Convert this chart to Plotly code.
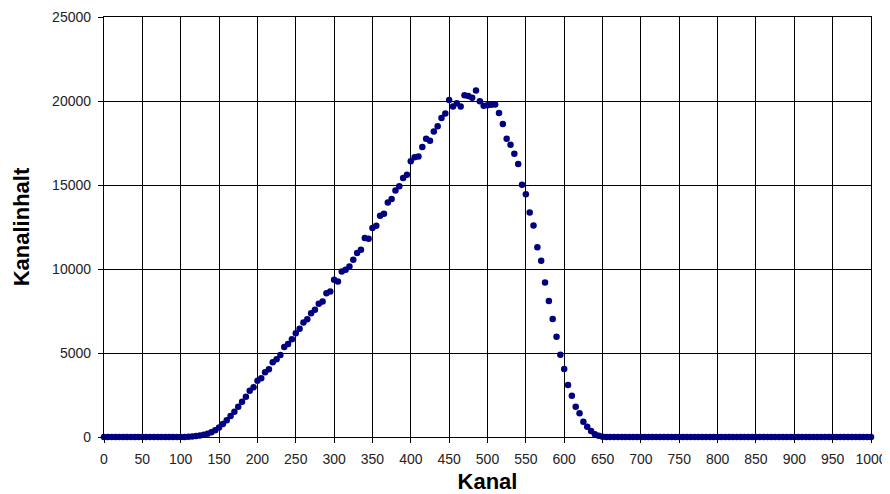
import plotly.graph_objects as go

kanal = [
    0, 5, 10, 15, 20, 25, 30, 35, 40, 45, 50, 55, 60, 65, 70, 75, 80, 85, 90, 95,
    100, 105, 110, 115, 120, 125, 130, 135, 140, 145, 150, 155, 160, 165, 170, 175,
    180, 185, 190, 195, 200, 205, 210, 215, 220, 225, 230, 235, 240, 245, 250, 255,
    260, 265, 270, 275, 280, 285, 290, 295, 300, 305, 310, 315, 320, 325, 330, 335,
    340, 345, 350, 355, 360, 365, 370, 375, 380, 385, 390, 395, 400, 405, 410, 415,
    420, 425, 430, 435, 440, 445, 450, 455, 460, 465, 470, 475, 480, 485, 490, 495,
    500, 505, 510, 515, 520, 525, 530, 535, 540, 545, 550, 555, 560, 565, 570, 575,
    580, 585, 590, 595, 600, 605, 610, 615, 620, 625, 630, 635, 640, 645, 650, 655,
    660, 665, 670, 675, 680, 685, 690, 695, 700, 705, 710, 715, 720, 725, 730, 735,
    740, 745, 750, 755, 760, 765, 770, 775, 780, 785, 790, 795, 800, 805, 810, 815,
    820, 825, 830, 835, 840, 845, 850, 855, 860, 865, 870, 875, 880, 885, 890, 895,
    900, 905, 910, 915, 920, 925, 930, 935, 940, 945, 950, 955, 960, 965, 970, 975,
    980, 985, 990, 995, 1000,
]

kanalinhalt = [
    0, 0, 0, 0, 0, 0, 0, 0, 0, 0, 0, 0, 0, 0, 0, 0, 0, 0, 0, 0,
    0, 5, 15, 30, 60, 90, 130, 190, 280, 400, 560, 780, 1000, 1250, 1500, 1800,
    2100, 2400, 2750, 2960, 3350, 3500, 3850, 4030, 4450, 4630, 4880, 5350, 5540, 5820, 6180, 6450,
    6810, 7010, 7370, 7570, 7930, 8060, 8560, 8660, 9360, 9260, 9850, 9950, 10150, 10550, 10950, 11150,
    11850, 11800, 12440, 12570, 13170, 13290, 13960, 14170, 14680, 14920, 15420, 15610, 16410, 16650, 16700, 17260,
    17760, 17640, 18190, 18490, 18990, 19250, 20060, 19670, 19860, 19680, 20340, 20300, 20200, 20630, 19990, 19720,
    19740, 19770, 19790, 19290, 18630, 17760, 17400, 16860, 16250, 15020, 14450, 13370, 12590, 11300, 10490, 9200,
    8100, 7030, 5970, 4890, 4050, 3100, 2460, 1800, 1410, 910, 610, 350, 170, 70, 20, 5,
    0, 0, 0, 0, 0, 0, 0, 0, 0, 0, 0, 0, 0, 0, 0, 0,
    0, 0, 0, 0, 0, 0, 0, 0, 0, 0, 0, 0, 0, 0, 0, 0,
    0, 0, 0, 0, 0, 0, 0, 0, 0, 0, 0, 0, 0, 0, 0, 0,
    0, 0, 0, 0, 0, 0, 0, 0, 0, 0, 0, 0, 0, 0, 0, 0,
    0, 0, 0, 0, 0,
]

x_title = "Kanal"
y_title = "Kanalinhalt"

fig = go.Figure(
    go.Scatter(
        x=kanal,
        y=kanalinhalt,
        mode="markers",
        marker=dict(color="#000080", size=6.5, line=dict(width=0)),
        cliponaxis=False,
        showlegend=False,
    )
)

axis_common = dict(
    showgrid=True,
    gridcolor="black",
    gridwidth=1.3,
    showline=True,
    linecolor="black",
    linewidth=1.3,
    mirror=True,
    ticks="outside",
    ticklen=5,
    tickwidth=1.3,
    tickcolor="black",
    zeroline=False,
    automargin=False,
    tickformat="d",
    ticklabelstandoff=4,
    tickfont=dict(family="Liberation Sans, Arial", size=14, color="#222222"),
)

# The page body adds an 8px offset; size and margins compensate for it.
fig.update_layout(
    width=882,
    height=486,
    margin=dict(l=96, r=19, t=9, b=57),
    paper_bgcolor="white",
    plot_bgcolor="white",
    xaxis=dict(
        range=[0, 1000],
        tick0=0,
        dtick=50,
        title=dict(
            text=x_title,
            font=dict(family="Liberation Sans, Arial", size=22, color="black", weight="bold"),
            standoff=8,
        ),
        **axis_common,
    ),
    yaxis=dict(
        range=[0, 25000],
        tick0=0,
        dtick=5000,
        title=dict(
            text=y_title,
            font=dict(family="Liberation Sans, Arial", size=22, color="black", weight="bold"),
            standoff=16,
        ),
        **axis_common,
    ),
)

fig.write_html("out.html")
